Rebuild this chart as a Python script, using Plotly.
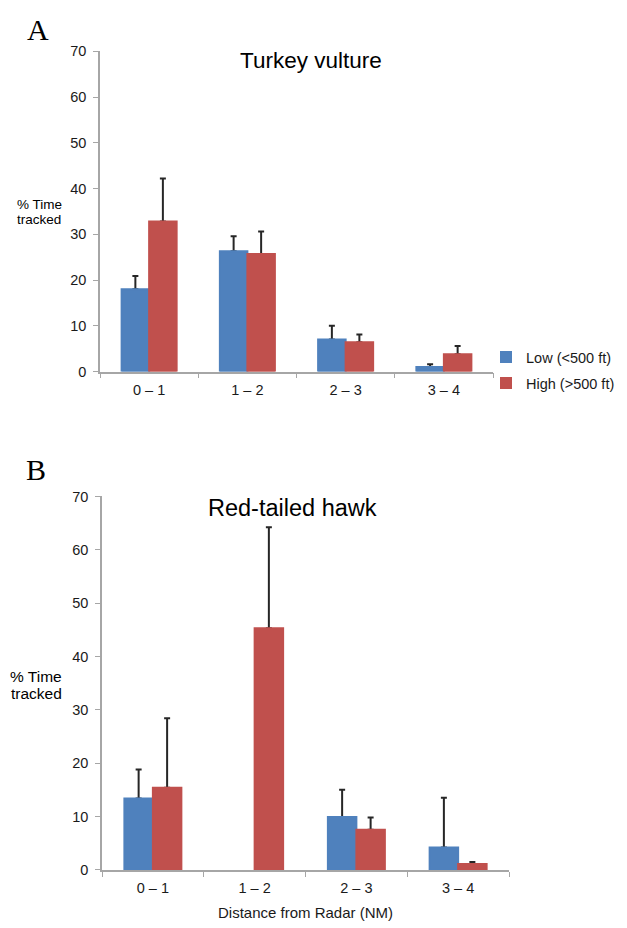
import plotly.graph_objects as go

W, H = 627, 928

categories = ["0 – 1", "1 – 2", "2 – 3", "3 – 4"]
series_names = ["Low (<500 ft)", "High (>500 ft)"]

# Panel A: Turkey vulture
tv_low = [18.0, 26.3, 7.0, 1.0]
tv_low_err = [2.9, 3.3, 3.0, 0.6]
tv_high = [32.8, 25.7, 6.4, 3.8]
tv_high_err = [9.4, 4.9, 1.7, 1.8]

# Panel B: Red-tailed hawk
rt_low = [13.4, None, 9.9, 4.2]
rt_low_err = [5.4, None, 5.1, 9.3]
rt_high = [15.4, 45.3, 7.5, 1.1]
rt_high_err = [13.0, 18.9, 2.3, 0.4]

y_ticks = [0, 10, 20, 30, 40, 50, 60, 70]

BLUE = "#4f81bd"
RED = "#c0504d"
FONT = "Arial, Liberation Sans, sans-serif"
AXC = "#a6a6a6"


def px_x(p):
    return p / W


def px_y(p):
    return 1 - p / H


def err(vals):
    return dict(type="data", array=vals, arrayminus=[0] * len(vals), symmetric=False,
                color="#262626", thickness=2, width=3)


fig = go.Figure()
panels = [
    ("x", "y", "x3", "y3", tv_low, tv_low_err, tv_high, tv_high_err, True),
    ("x2", "y2", "x4", "y4", rt_low, rt_low_err, rt_high, rt_high_err, False),
]
for xa, ya, xo, yo, lo, lo_e, hi, hi_e, leg in panels:
    fig.add_trace(go.Bar(x=categories, y=lo, name=series_names[0], marker_color=BLUE,
                         marker_line_width=0, error_y=err(lo_e), xaxis=xa, yaxis=ya,
                         showlegend=leg, legendgroup="a"))
    fig.add_trace(go.Bar(x=categories, y=hi, name=series_names[1], marker_color=RED,
                         marker_line_width=0, error_y=err(hi_e), xaxis=xa, yaxis=ya,
                         showlegend=leg, legendgroup="b"))
    # identical bars on an overlaid axis pair, covering the error-bar base caps
    fig.add_trace(go.Bar(x=categories, y=lo, name=series_names[0], marker_color=BLUE,
                         marker_line=dict(color=BLUE, width=2), xaxis=xo, yaxis=yo,
                         showlegend=False, hoverinfo="skip"))
    fig.add_trace(go.Bar(x=categories, y=hi, name=series_names[1], marker_color=RED,
                         marker_line=dict(color=RED, width=2), xaxis=xo, yaxis=yo,
                         showlegend=False, hoverinfo="skip"))

xcommon = dict(type="category", showline=True, linecolor=AXC, linewidth=1.5,
               ticks="outside", tickson="boundaries", ticklen=5, tickcolor=AXC,
               tickfont=dict(family=FONT, size=14.5, color="#1a1a1a"),
               showgrid=False, zeroline=False, ticklabelstandoff=4, fixedrange=True,
               categoryorder="array", categoryarray=categories)
ycommon = dict(range=[0, 70], tickvals=y_ticks, showline=True, linecolor=AXC, linewidth=1.5,
               ticks="outside", ticklen=5, tickcolor=AXC,
               tickfont=dict(family=FONT, size=14.5, color="#1a1a1a"),
               showgrid=False, zeroline=False, ticklabelstandoff=4, fixedrange=True)

xd1 = [px_x(100), px_x(493)]
yd1 = [px_y(370), px_y(44)]
xd2 = [px_x(102), px_x(509)]
yd2 = [px_y(877), px_y(497)]

hidden_x = dict(type="category", visible=False, categoryorder="array", categoryarray=categories,
                fixedrange=True)
hidden_y = dict(range=[0, 70], visible=False, fixedrange=True)

fig.update_layout(
    width=W, height=H,
    margin=dict(l=0, r=0, t=0, b=0),
    paper_bgcolor="white", plot_bgcolor="white",
    barmode="group", bargap=0.44, bargroupgap=0,
    font=dict(family=FONT, color="#1a1a1a"),
    xaxis=dict(domain=xd1, anchor="y", **xcommon),
    yaxis=dict(domain=yd1, anchor="x", **ycommon),
    xaxis2=dict(domain=xd2, anchor="y2", **xcommon),
    yaxis2=dict(domain=yd2, anchor="x2", **ycommon),
    xaxis3=dict(domain=xd1, anchor="y3", overlaying="x", **hidden_x),
    yaxis3=dict(domain=yd1, anchor="x3", overlaying="y", **hidden_y),
    xaxis4=dict(domain=xd2, anchor="y4", overlaying="x2", **hidden_x),
    yaxis4=dict(domain=yd2, anchor="x4", overlaying="y2", **hidden_y),
    legend=dict(x=px_x(486), y=px_y(339), xanchor="left", yanchor="top",
                font=dict(family=FONT, size=14.5, color="#1a1a1a"),
                traceorder="grouped", tracegroupgap=4, bgcolor="rgba(0,0,0,0)"),
    showlegend=True,
)

SERIF = "Liberation Serif, Times New Roman, serif"
ann = [
    dict(text="A", x=px_x(38), y=px_y(22), font=dict(family=SERIF, size=30, color="#000")),
    dict(text="B", x=px_x(36), y=px_y(470), font=dict(family=SERIF, size=30, color="#000")),
    dict(text="Turkey vulture", x=px_x(311), y=px_y(53), font=dict(family=FONT, size=22.5, color="#000")),
    dict(text="Red-tailed hawk", x=px_x(292), y=px_y(509), font=dict(family=FONT, size=23.5, color="#000")),
    dict(text="% Time", x=px_x(39), y=px_y(200), font=dict(family=FONT, size=13.5, color="#000")),
    dict(text="tracked", x=px_x(39), y=px_y(215), font=dict(family=FONT, size=13.5, color="#000")),
    dict(text="% Time", x=px_x(36), y=px_y(680), font=dict(family=FONT, size=15.5, color="#000")),
    dict(text="tracked", x=px_x(36), y=px_y(698), font=dict(family=FONT, size=15.5, color="#000")),
    dict(text="Distance from Radar (NM)", x=px_x(305), y=px_y(920), font=dict(family=FONT, size=15, color="#1a1a1a")),
]
for a in ann:
    fig.add_annotation(xref="paper", yref="paper", xanchor="center", yanchor="middle",
                       showarrow=False, **a)

fig.write_html("out.html", config={"displayModeBar": False},
               post_script="document.body.style.margin='0';document.body.style.overflow='hidden';")
